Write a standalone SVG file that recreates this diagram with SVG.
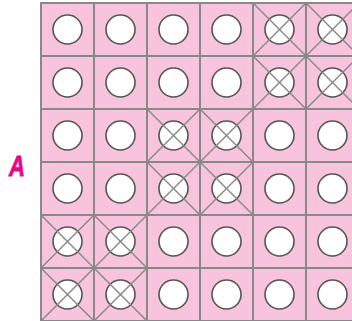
<svg xmlns="http://www.w3.org/2000/svg" width="352" height="321" viewBox="0 0 352 321">
<style>
.cell{fill:#f8c3dc;stroke:#888;stroke-width:2}
.x{stroke:#888;stroke-width:1.5}
.c{fill:#fff;stroke:#555;stroke-width:1.6}
.lbl{font-family:"Liberation Sans",Arial,sans-serif;font-weight:bold;font-style:italic;font-size:29px;fill:#e8078a;stroke:#e8078a;stroke-width:0.8}
</style>
<defs>
<g id="plain"><rect class="cell" x="0" y="0" width="53" height="53"/><circle class="c" cx="26.5" cy="26.5" r="14.5"/></g>
<g id="cross"><rect class="cell" x="0" y="0" width="53" height="53"/><circle class="c" cx="26.5" cy="26.5" r="14.5"/><line class="x" x1="0" y1="0" x2="53" y2="53"/><line class="x" x1="53" y1="0" x2="0" y2="53"/></g>
</defs>
<text class="lbl" x="9" y="176" textLength="16" lengthAdjust="spacingAndGlyphs">A</text>
<g id="grid">
<g id="r0"><use href="#plain" x="41" y="3"/><use href="#plain" x="94" y="3"/><use href="#plain" x="147" y="3"/><use href="#plain" x="200" y="3"/><use href="#cross" x="253" y="3"/><use href="#cross" x="306" y="3"/></g>
<g id="r1"><use href="#plain" x="41" y="56"/><use href="#plain" x="94" y="56"/><use href="#plain" x="147" y="56"/><use href="#plain" x="200" y="56"/><use href="#cross" x="253" y="56"/><use href="#cross" x="306" y="56"/></g>
<g id="r2"><use href="#plain" x="41" y="109"/><use href="#plain" x="94" y="109"/><use href="#cross" x="147" y="109"/><use href="#cross" x="200" y="109"/><use href="#plain" x="253" y="109"/><use href="#plain" x="306" y="109"/></g>
<g id="r3"><use href="#plain" x="41" y="162"/><use href="#plain" x="94" y="162"/><use href="#cross" x="147" y="162"/><use href="#cross" x="200" y="162"/><use href="#plain" x="253" y="162"/><use href="#plain" x="306" y="162"/></g>
<g id="r4"><use href="#cross" x="41" y="215"/><use href="#cross" x="94" y="215"/><use href="#plain" x="147" y="215"/><use href="#plain" x="200" y="215"/><use href="#plain" x="253" y="215"/><use href="#plain" x="306" y="215"/></g>
<g id="r5"><use href="#cross" x="41" y="268"/><use href="#cross" x="94" y="268"/><use href="#plain" x="147" y="268"/><use href="#plain" x="200" y="268"/><use href="#plain" x="253" y="268"/><use href="#plain" x="306" y="268"/></g>
</g>
</svg>
